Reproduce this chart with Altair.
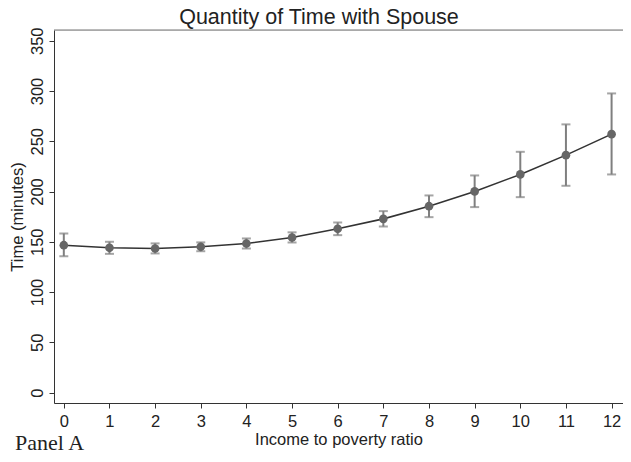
import altair as alt
import pandas as pd

ratio = [0, 1, 2, 3, 4, 5, 6, 7, 8, 9, 10, 11, 12]
time_mean = [146.6, 144.0, 143.3, 145.0, 148.3, 154.3, 162.9, 172.8, 185.4, 200.1, 217.0, 236.2, 257.1]
ci_high = [158.3, 150.0, 148.4, 149.4, 153.3, 159.4, 169.2, 180.5, 196.1, 216.0, 239.5, 266.8, 297.6]
ci_low = [135.7, 138.0, 138.4, 140.6, 143.3, 149.3, 156.6, 165.2, 174.5, 184.5, 194.4, 205.7, 217.0]
x_ticks = list(range(0, 13))
y_ticks = [0, 50, 100, 150, 200, 250, 300, 350]
title_text = ["Quantity of Time with Spouse"]
panel_text = ["Panel A"]

df = pd.DataFrame({"ratio": ratio, "time": time_mean, "hi": ci_high, "lo": ci_low})

FONT = "Liberation Sans"
W, H = 569, 373

x_enc = alt.X(
    "ratio:Q",
    scale=alt.Scale(domain=[-0.215, 12.25], nice=False, zero=False),
    axis=alt.Axis(
        values=x_ticks, title="Income to poverty ratio", grid=False,
        labelFontSize=16.5, titleFontSize=16.5, labelFont=FONT, titleFont=FONT,
        labelColor="#222", titleColor="#222", titleFontWeight="normal",
        domainColor="#333", tickColor="#333", tickSize=5, labelPadding=5,
        titlePadding=2, labelFlush=False,
    ),
)
y_scale = alt.Scale(domain=[-10.4, 360.7], nice=False, zero=False)
y_axis = alt.Axis(
    values=y_ticks, title="Time (minutes)", grid=False,
    labelFontSize=16.5, titleFontSize=16.5, labelFont=FONT, titleFont=FONT,
    labelColor="#222", titleColor="#222", titleFontWeight="normal",
    domainColor="#333", tickColor="#333", tickSize=5,
    labelAngle=270, labelAlign="center", labelBaseline="bottom", labelPadding=4,
    titlePadding=4,
)

base = alt.Chart(df)

bars = base.mark_rule(color="#7f7f7f", strokeWidth=2).encode(
    x=x_enc,
    y=alt.Y("lo:Q", scale=y_scale, axis=y_axis),
    y2="hi:Q",
)
cap_hi = base.mark_tick(color="#7f7f7f", orient="horizontal", size=9, thickness=2).encode(
    x="ratio:Q", y=alt.Y("hi:Q", scale=y_scale)
)
cap_lo = base.mark_tick(color="#7f7f7f", orient="horizontal", size=9, thickness=2).encode(
    x="ratio:Q", y=alt.Y("lo:Q", scale=y_scale)
)
line = base.mark_line(color="#333333", strokeWidth=1.6).encode(
    x="ratio:Q", y=alt.Y("time:Q", scale=y_scale)
)
pts = base.mark_circle(color="#666666", size=75, opacity=1).encode(
    x="ratio:Q", y=alt.Y("time:Q", scale=y_scale)
)

top_border = alt.Chart(pd.DataFrame({"a": [0]})).mark_rule(color="#777777", strokeWidth=1.2).encode(
    x=alt.value(0), x2=alt.value(W), y=alt.value(0)
)

title = alt.Chart(pd.DataFrame({"t": title_text})).mark_text(
    font=FONT, fontSize=21.5, color="#222", align="center", baseline="alphabetic"
).encode(text="t:N", x=alt.value(265), y=alt.value(-6))

panel = alt.Chart(pd.DataFrame({"t": panel_text})).mark_text(
    font="Liberation Serif", fontSize=22, color="#222", align="left", baseline="alphabetic"
).encode(text="t:N", x=alt.value(-39), y=alt.value(420))

chart = alt.layer(bars, cap_hi, cap_lo, line, pts, top_border, title, panel).properties(
    width=W,
    height=H,
    autosize=alt.AutoSizeParams(type="none"),
    padding={"left": 46, "top": 22, "right": 0, "bottom": 51},
).configure_view(stroke=None).configure(background="white")

chart.save("out.html", embed_options={"renderer": "svg", "actions": False})
